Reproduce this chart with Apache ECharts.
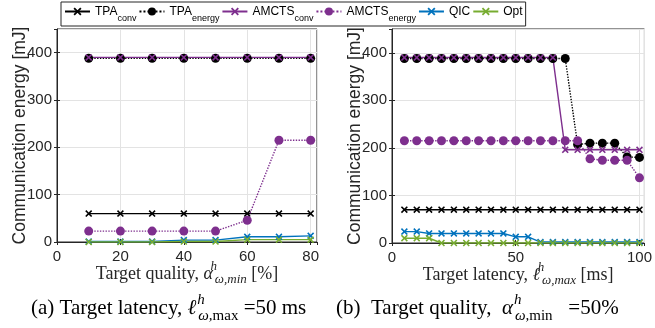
<!DOCTYPE html>
<html lang="en">
<head>
    <meta charset="UTF-8">
    <title>energy</title>
    <script src="https://cdn.jsdelivr.net/npm/echarts@6/dist/echarts.min.js"></script>
</head>
<body style="margin:0; background:#fff;">
<div id="main" style="width: 655px; height: 328px;"></div>
<script type="text/javascript">

    // (a) target quality sweep
    const qualityX = [10, 20, 30, 40, 50, 60, 70, 80];
    const a_tpaConv = [60, 60, 60, 60, 60, 60, 60, 60];
    const a_tpaEnergy = [388, 388, 388, 388, 388, 388, 388, 388];
    const a_amctsConv = [390, 390, 390, 390, 390, 390, 390, 390];
    const a_amctsEnergy = [23, 23, 23, 23, 23, 46, 215, 215];
    const a_qic = [1, 1, 1, 4, 4, 11, 11, 13];
    const a_opt = [0, 0, 0, 1, 1, 5, 5, 5];

    // (b) target latency sweep
    const latencyX = [5, 10, 15, 20, 25, 30, 35, 40, 45, 50, 55, 60, 65, 70, 75, 80, 85, 90, 95, 100];
    const b_tpaConv = [70, 70, 70, 70, 70, 70, 70, 70, 70, 70, 70, 70, 70, 70, 70, 70, 70, 70, 70, 70];
    const b_tpaEnergy = [388, 388, 388, 388, 388, 388, 388, 388, 388, 388, 388, 388, 388, 388, 207, 210, 210, 210, 181, 180];
    const b_amctsConv = [390, 390, 390, 390, 390, 390, 390, 390, 390, 390, 390, 390, 390, 196, 196, 196, 196, 196, 196, 196];
    const b_amctsEnergy = [215, 215, 215, 215, 215, 215, 215, 215, 215, 215, 215, 215, 215, 215, 215, 177, 174, 174, 174, 137];
    const b_qic = [24, 24, 20, 20, 20, 20, 20, 20, 20, 13, 13, 2, 2, 2, 2, 2, 2, 2, 2, 2];
    const b_opt = [10, 10, 10, 0, 0, 0, 0, 0, 0, 0, 0, 0, 0, 0, 0, 0, 0, 0, 0, 0];

    const names = ['TPA_conv', 'TPA_energy', 'AMCTS_conv', 'AMCTS_energy', 'QIC', 'Opt'];

    const SANS = 'Liberation Sans';
    const SERIF = 'Liberation Serif';
    const AXC = '#262626';
    const CROSS = 'path://M0,1.6 L1.6,0 L5,3.4 L8.4,0 L10,1.6 L6.6,5 L10,8.4 L8.4,10 L5,6.6 L1.6,10 L0,8.4 L3.4,5 Z';

    const styles = {
        'TPA_conv':     {color: '#000000', dash: 'solid',  symbol: CROSS,    size: 7},
        'TPA_energy':   {color: '#000000', dash: 'dotted', symbol: 'circle', size: 9},
        'AMCTS_conv':   {color: '#7E2F8E', dash: 'solid',  symbol: CROSS,    size: 7},
        'AMCTS_energy': {color: '#7E2F8E', dash: 'dotted', symbol: 'circle', size: 9},
        'QIC':          {color: '#0072BD', dash: 'solid',  symbol: CROSS,    size: 7},
        'Opt':          {color: '#77AC30', dash: 'solid',  symbol: CROSS,    size: 7}
    };

    function pairs(xs, ys) {
        return xs.map((x, i) => [x, ys[i]]);
    }

    function mkSeries(name, idx, xs, ys) {
        const s = styles[name];
        return {
            name: name,
            type: 'line',
            xAxisIndex: idx,
            yAxisIndex: idx,
            data: pairs(xs, ys),
            symbol: s.symbol,
            symbolSize: s.size,
            showAllSymbol: true,
            animation: false,
            lineStyle: {color: s.color, width: 1.4, type: s.dash},
            itemStyle: {color: s.color, borderWidth: 0}
        };
    }

    function mathRich(fs, color) {
        const small = Math.round(fs * 0.7);
        const base = {fontFamily: SERIF, color: color, fontWeight: 'normal', verticalAlign: 'top'};
        return {
            r:   Object.assign({}, base, {fontSize: fs, lineHeight: fs + 2, padding: [5, 0, 0, 0]}),
            it:  Object.assign({}, base, {fontSize: fs, fontStyle: 'italic', lineHeight: fs + 2, padding: [5, 0, 0, 0]}),
            sup: Object.assign({}, base, {fontSize: small, fontStyle: 'italic', lineHeight: small + 2, width: 0, padding: [0, 0, 0, 1]}),
            sub: Object.assign({}, base, {fontSize: small, fontStyle: 'italic', lineHeight: small + 2, padding: [fs - 5, 0, 0, 1]}),
            subr: Object.assign({}, base, {fontSize: small, lineHeight: small + 2, padding: [fs - 5, 0, 0, 0]})
        };
    }

    function xAx(idx, max, interval, label) {
        return {
            type: 'value', gridIndex: idx, min: 0, max: max, interval: interval,
            name: label, nameLocation: 'middle', nameGap: 18, nameMoveOverlap: false,
            nameTextStyle: {
                fontFamily: SERIF, fontSize: 18, color: AXC, verticalAlign: 'top',
                rich: mathRich(18, AXC)
            },
            axisLine: {onZero: false, lineStyle: {color: AXC}},
            axisTick: {inside: true, length: 3, lineStyle: {color: AXC}},
            axisLabel: {fontFamily: SANS, fontSize: 15, color: AXC, margin: 7, showMaxLabel: false},
            splitLine: {show: true, lineStyle: {color: '#e3e3e3'}}
        };
    }

    function yAx(idx) {
        return {
            type: 'value', gridIndex: idx, min: 0, max: 450, interval: 100,
            name: 'Communication energy [mJ]', nameLocation: 'middle', nameGap: 28, nameMoveOverlap: false,
            nameTextStyle: {fontFamily: SANS, fontSize: 17.5, color: AXC},
            axisLine: {lineStyle: {color: AXC}},
            axisTick: {inside: true, length: 3, lineStyle: {color: AXC}},
            axisLabel: {fontFamily: SANS, fontSize: 15, color: AXC, margin: 5, showMaxLabel: false},
            splitLine: {show: true, lineStyle: {color: '#e3e3e3'}}
        };
    }

    // mirror axes: tick marks on the top and right edges of the box
    function mirrorX(idx, max, interval) {
        return {type: 'value', gridIndex: idx, position: 'top', min: 0, max: max, interval: interval,
            axisLine: {show: false}, axisLabel: {show: false}, splitLine: {show: false},
            axisTick: {inside: true, length: 3, lineStyle: {color: AXC}}};
    }
    function mirrorY(idx) {
        return {type: 'value', gridIndex: idx, position: 'right', min: 0, max: 450, interval: 100,
            axisLine: {show: false}, axisLabel: {show: false}, splitLine: {show: false},
            axisTick: {inside: true, length: 3, lineStyle: {color: AXC}}};
    }

    const capRich = mathRich(21, '#000');

    const myChart = echarts.init(document.getElementById('main'), null, {renderer: 'canvas'});

    const option = {
        backgroundColor: '#fff',
        animation: false,
        title: [
            {text: '{r|(a) Target latency, }{it|ℓ}{sup|h}{sub|ω,}{subr|max}{r| =50 ms}',
             left: 26, top: 288, textStyle: {fontWeight: 'normal', rich: capRich}},
            {text: '{r|(b)  Target quality,  }{it|α}{sup|h}{sub|ω,}{subr|min}{r|   =50%}',
             left: 331, top: 288, textStyle: {fontWeight: 'normal', rich: capRich}}
        ],
        legend: {
            data: names,
            left: 61, top: 2,
            padding: [3, 3, 3, 3],
            itemGap: 2,
            itemWidth: 25, itemHeight: 10,
            borderColor: AXC, borderWidth: 1,
            backgroundColor: '#fff',
            formatter: function (n) {
                const p = n.split('_');
                return p.length > 1 ? '{b|' + p[0] + '}{s|' + p[1] + '}' : '{b|' + p[0] + '}';
            },
            textStyle: {
                rich: {
                    b: {fontFamily: SANS, fontSize: 12, color: '#000', lineHeight: 13, padding: [1, 0, 0, 0], verticalAlign: 'top'},
                    s: {fontFamily: SANS, fontSize: 9, color: '#000', lineHeight: 10, padding: [9, 0, 0, 0], verticalAlign: 'top'}
                }
            }
        },
        grid: [
            {left: 57, top: 29, width: 260, height: 213, show: true, borderColor: AXC, borderWidth: 1, backgroundColor: '#fff'},
            {left: 392, top: 29, width: 258, height: 214, show: true, borderColor: AXC, borderWidth: 1, backgroundColor: '#fff'}
        ],
        xAxis: [
            xAx(0, 82, 20, '{r|Target quality, }{it|α}{sup|h}{sub|ω,min}{r| [%]}'),
            xAx(1, 102, 50, '{r|Target latency, }{it|ℓ}{sup|h}{sub|ω,max}{r| [ms]}'),
            mirrorX(0, 82, 20),
            mirrorX(1, 102, 50)
        ],
        yAxis: [yAx(0), yAx(1), mirrorY(0), mirrorY(1)],
        series: [
            mkSeries('TPA_conv', 0, qualityX, a_tpaConv),
            mkSeries('TPA_energy', 0, qualityX, a_tpaEnergy),
            mkSeries('AMCTS_conv', 0, qualityX, a_amctsConv),
            mkSeries('AMCTS_energy', 0, qualityX, a_amctsEnergy),
            mkSeries('QIC', 0, qualityX, a_qic),
            mkSeries('Opt', 0, qualityX, a_opt),
            mkSeries('TPA_conv', 1, latencyX, b_tpaConv),
            mkSeries('TPA_energy', 1, latencyX, b_tpaEnergy),
            mkSeries('AMCTS_conv', 1, latencyX, b_amctsConv),
            mkSeries('AMCTS_energy', 1, latencyX, b_amctsEnergy),
            mkSeries('QIC', 1, latencyX, b_qic),
            mkSeries('Opt', 1, latencyX, b_opt)
        ]
    };
    myChart.setOption(option);
</script>
</body>
</html>
